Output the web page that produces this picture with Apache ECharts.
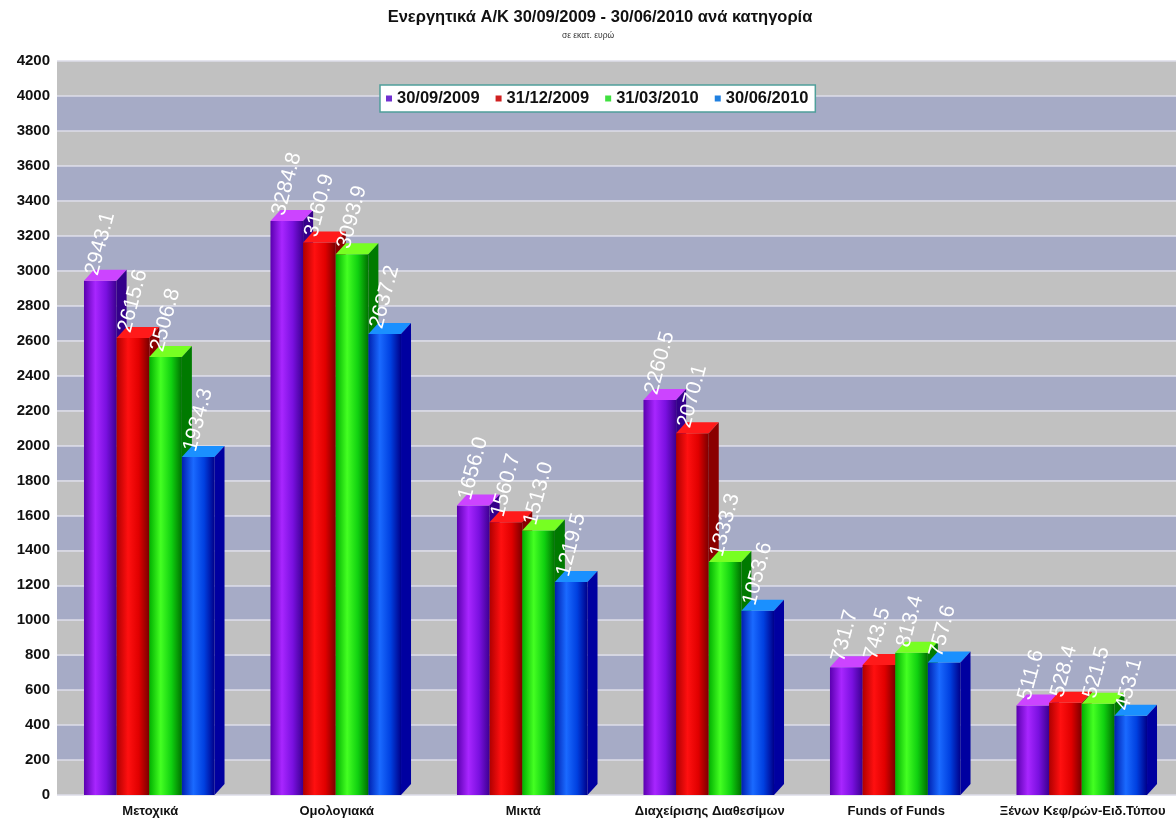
<!DOCTYPE html>
<html>
<head>
<meta charset="utf-8">
<script src="https://cdn.jsdelivr.net/npm/echarts@6/dist/echarts.min.js"></script>
<style>
  html, body { margin: 0; padding: 0; background: #ffffff; }
  #chart { width: 1176px; height: 821px; }
</style>
</head>
<body>
<div id="chart"></div>
<script>
// Categories of mutual funds (assets in million euro)
const categories = ['Μετοχικά', 'Ομολογιακά', 'Μικτά', 'Διαχείρισης Διαθεσίμων', 'Funds of Funds', 'Ξένων Κεφ/ρών-Ειδ.Τύπου'];
const dates = ['30/09/2009', '31/12/2009', '31/03/2010', '30/06/2010'];

const values_2009_09 = [2943.1, 3284.8, 1656.0, 2260.5, 731.7, 511.6];
const values_2009_12 = [2615.6, 3160.9, 1560.7, 2070.1, 743.5, 528.4];
const values_2010_03 = [2506.8, 3093.9, 1513.0, 1333.3, 813.4, 521.5];
const values_2010_06 = [1934.3, 2637.2, 1219.5, 1053.6, 757.6, 453.1];
const seriesValues = [values_2009_09, values_2009_12, values_2010_03, values_2010_06];

// Shading for each date: front gradient, top face, side face, legend swatch
const palettes = [
  { stops: ['#5a00b0', '#a826ff', '#7a10e0', '#3c0090'], top: '#cc44ff', side: '#34008a', legend: '#7030d0' },
  { stops: ['#b00000', '#ff1010', '#e00000', '#7a0000'], top: '#ff1a1a', side: '#8a0000', legend: '#d02020' },
  { stops: ['#00b000', '#44ff22', '#10d010', '#007000'], top: '#77ff22', side: '#007a00', legend: '#40e040' },
  { stops: ['#0020b0', '#1a6aff', '#0040e0', '#00008a'], top: '#1a90ff', side: '#0000a0', legend: '#2080e0' }
];

const DEPTH_X = 10, DEPTH_Y = 11;
const FONT = 'Liberation Sans, Arial, sans-serif';

function render3DBar(pal) {
  return function (params, api) {
    const cat = api.value(0);
    const v = api.value(1);
    const base = api.coord([cat, 0]);
    const top = api.coord([cat, v]);
    const bandW = api.size([1, 0])[0];
    const barW = bandW * 0.175;
    const x0 = base[0] - 2 * barW + params.seriesIndex * barW - 1;
    const x1 = x0 + barW;
    const ty = top[1], by = base[1];
    return {
      type: 'group',
      children: [
        {
          type: 'rect',
          shape: { x: x0, y: ty, width: barW, height: by - ty },
          style: {
            fill: new echarts.graphic.LinearGradient(0, 0, 1, 0, [
              { offset: 0, color: pal.stops[0] },
              { offset: 0.35, color: pal.stops[1] },
              { offset: 0.68, color: pal.stops[2] },
              { offset: 1, color: pal.stops[3] }
            ])
          }
        },
        {
          type: 'polygon',
          shape: { points: [[x0, ty], [x1, ty], [x1 + DEPTH_X, ty - DEPTH_Y], [x0 + DEPTH_X, ty - DEPTH_Y]] },
          style: { fill: pal.top }
        },
        {
          type: 'polygon',
          shape: { points: [[x1, ty], [x1 + DEPTH_X, ty - DEPTH_Y], [x1 + DEPTH_X, by - DEPTH_Y], [x1, by]] },
          style: { fill: pal.side }
        },
        {
          type: 'text',
          x: x0 + 8,
          y: ty - 6,
          rotation: 75 * Math.PI / 180,
          style: {
            text: v.toFixed(1),
            fill: '#ffffff',
            fontSize: 21,
            fontFamily: FONT,
            align: 'left',
            verticalAlign: 'middle'
          }
        }
      ]
    };
  };
}

const series = dates.map(function (d, i) {
  return {
    name: d,
    type: 'custom',
    renderItem: render3DBar(palettes[i]),
    itemStyle: { color: palettes[i].legend },
    encode: { x: 0, y: 1 },
    data: seriesValues[i].map(function (v, c) { return [c, v]; }),
    clip: false
  };
});

const chart = echarts.init(document.getElementById('chart'), null, { renderer: 'canvas' });
chart.setOption({
  animation: false,
  backgroundColor: '#ffffff',
  textStyle: { fontFamily: FONT },
  graphic: [
    {
      type: 'text', x: 600, y: 17,
      style: {
        text: 'Ενεργητικά Α/Κ 30/09/2009 - 30/06/2010 ανά κατηγορία',
        fill: '#111111', fontSize: 16.5, fontWeight: 'bold',
        fontFamily: FONT,
        align: 'center', verticalAlign: 'middle'
      }
    },
    {
      type: 'text', x: 588, y: 36,
      style: {
        text: 'σε εκατ. ευρώ',
        fill: '#333333', fontSize: 8.5,
        fontFamily: FONT,
        align: 'center', verticalAlign: 'middle'
      }
    }
  ],
  legend: {
    data: dates,
    left: 380,
    top: 85,
    orient: 'horizontal',
    backgroundColor: '#ffffff',
    borderColor: '#4f9f9a',
    borderWidth: 1.5,
    borderRadius: 0,
    padding: [5, 7, 5, 6],
    itemWidth: 6,
    itemHeight: 6,
    itemGap: 16,
    icon: 'rect',
    textStyle: { color: '#111111', fontSize: 16.5, fontWeight: 'bold', fontFamily: FONT }
  },
  grid: { left: 57, right: 0, top: 61, bottom: 26, containLabel: false },
  xAxis: {
    type: 'category',
    data: categories,
    axisLine: { show: false },
    axisTick: { show: false },
    axisLabel: {
      color: '#111111', fontSize: 13, fontWeight: 'bold', margin: 10,
      interval: 0,
      fontFamily: FONT
    },
    splitLine: { show: false }
  },
  yAxis: {
    type: 'value',
    min: 0,
    max: 4200,
    interval: 200,
    axisLine: { show: false },
    axisTick: { show: false },
    axisLabel: {
      color: '#111111', fontSize: 15, fontWeight: 'bold', margin: 7,
      fontFamily: FONT,
      formatter: function (v) { return String(v); }
    },
    splitLine: { show: true, lineStyle: { color: '#dcdce8', width: 1.5 } },
    splitArea: { show: true, areaStyle: { color: ['#c1c1c1', '#a6abc6'] } }
  },
  series: series
});
</script>
</body>
</html>
